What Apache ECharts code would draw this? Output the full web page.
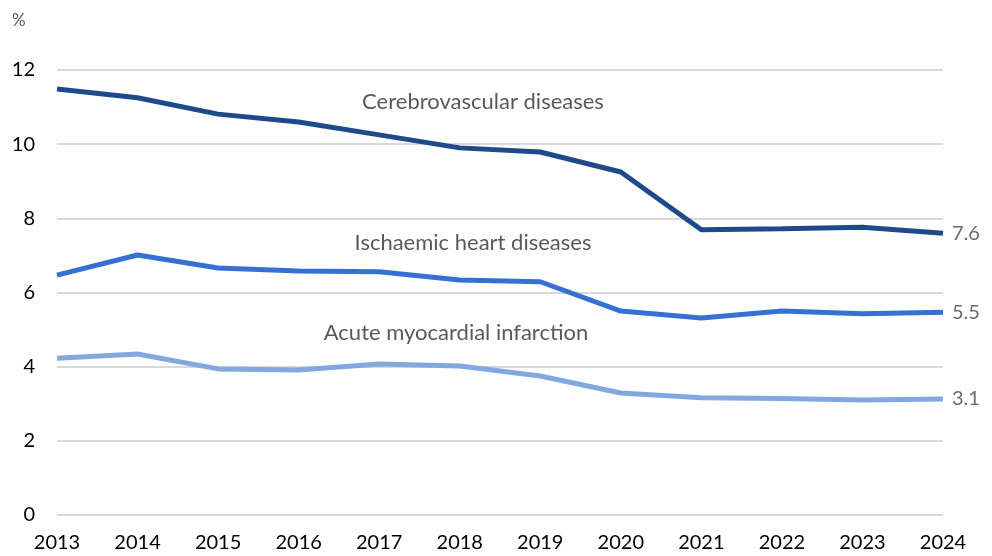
<!DOCTYPE html>
<html>
<head>
<meta charset="utf-8">
<script src="https://cdn.jsdelivr.net/npm/echarts@6/dist/echarts.min.js"></script>
<style>
  html, body { margin: 0; padding: 0; background: #fff; }
  #main { width: 992px; height: 556px; }
</style>
</head>
<body>
<div id="main"></div>
<script>
// years on the x axis
var years = ['2013', '2014', '2015', '2016', '2017', '2018', '2019', '2020', '2021', '2022', '2023', '2024'];

// rates in %
var cerebrovascular = [11.49, 11.25, 10.81, 10.6, 10.25, 9.9, 9.79, 9.25, 7.69, 7.72, 7.76, 7.6];
var ischaemic = [6.47, 7.01, 6.66, 6.58, 6.56, 6.34, 6.29, 5.5, 5.31, 5.5, 5.43, 5.47];
var acuteMI = [4.23, 4.34, 3.94, 3.91, 4.07, 4.02, 3.75, 3.29, 3.16, 3.14, 3.1, 3.13];

var yTicks = [0, 2, 4, 6, 8, 10, 12];

var font = 'Lato, "Open Sans", sans-serif';

function lineSeries(name, data, color) {
    return {
        name: name,
        type: 'line',
        data: data,
        symbol: 'none',
        lineStyle: { color: color, width: 5 },
        itemStyle: { color: color },
        endLabel: {
            show: true,
            distance: 9,
            color: '#6b6b6b',
            fontSize: 20,
            fontFamily: font,
            formatter: function (p) { return p.value.toFixed(1); }
        },
        z: 3
    };
}

var myChart = echarts.init(document.getElementById('main'));
myChart.setOption({
    animation: false,
    grid: { left: 57, right: 49, top: 70, bottom: 41 },
    xAxis: {
        type: 'category',
        data: years,
        boundaryGap: false,
        axisLine: { show: false },
        axisTick: { show: false },
        axisLabel: { color: '#000', fontSize: 20, fontFamily: font, margin: 18 }
    },
    yAxis: {
        type: 'value',
        min: yTicks[0],
        max: yTicks[yTicks.length - 1],
        interval: 2,
        axisLine: { show: false },
        axisTick: { show: false },
        axisLabel: { color: '#000', fontSize: 20, fontFamily: font, margin: 22 },
        splitLine: { lineStyle: { color: '#d9d9d9', width: 2 } }
    },
    graphic: [
        { type: 'text', left: 12, top: 12, style: { text: '%', fill: '#595959', font: '17px ' + font } },
        { type: 'text', x: 483, y: 102, style: { text: 'Cerebrovascular diseases', fill: '#595959', font: '22px ' + font, align: 'center', verticalAlign: 'middle' } },
        { type: 'text', x: 473, y: 243, style: { text: 'Ischaemic heart diseases', fill: '#595959', font: '22px ' + font, align: 'center', verticalAlign: 'middle' } },
        { type: 'text', x: 456, y: 333, style: { text: 'Acute myocardial infarction', fill: '#595959', font: '22px ' + font, align: 'center', verticalAlign: 'middle' } }
    ],
    series: [
        lineSeries('Cerebrovascular diseases', cerebrovascular, '#1f4a8a'),
        lineSeries('Ischaemic heart diseases', ischaemic, '#3670d2'),
        lineSeries('Acute myocardial infarction', acuteMI, '#82a8e2')
    ]
});
</script>
</body>
</html>
